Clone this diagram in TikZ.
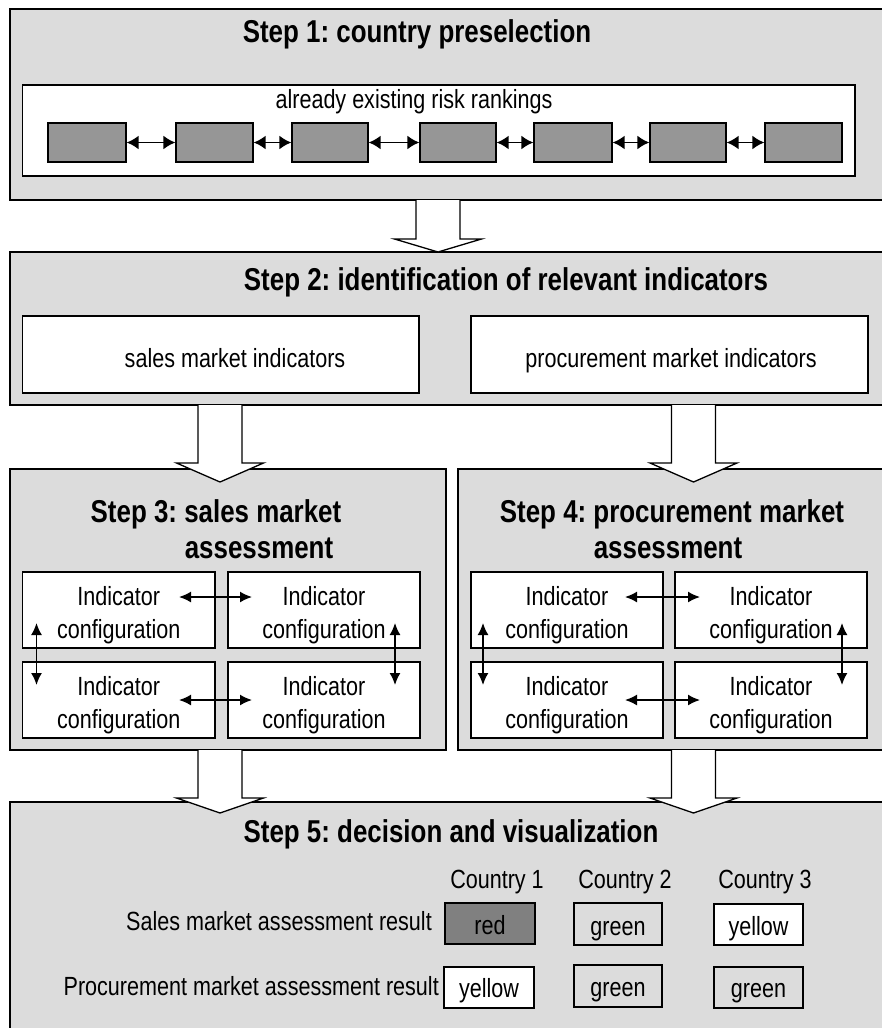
\documentclass[tikz,border=0pt]{standalone}
\usepackage{fontspec}
\setmainfont[FakeStretch=0.82]{Liberation Sans}
\usetikzlibrary{arrows.meta,fit,calc}
\definecolor{bggray}{HTML}{DCDCDC}
\definecolor{rankgray}{HTML}{969696}
\definecolor{redgray}{HTML}{808080}
\frenchspacing
\tikzset{
  stepbox/.style={draw=black, line width=2pt, fill=bggray, inner sep=0pt},
  whitebox/.style={draw=black, line width=1.3pt, fill=white, inner sep=0pt},
  rankbox/.style={draw=black, line width=1.3pt, fill=rankgray, inner sep=0pt},
  resbox/.style={draw=black, line width=1.3pt, inner sep=0pt},
  titletext/.style={font=\fontsize{31.6}{36}\selectfont\bfseries, inner sep=0pt, align=center},
  bodytext/.style={font=\fontsize{26.3}{33}\selectfont, inner sep=0pt, align=center},
  dbl/.style={{Latex[length=12pt,width=14pt]}-{Latex[length=12pt,width=14pt]}, line width=1.8pt},
  smalldbl/.style={{Latex[length=12pt,width=11pt]}-{Latex[length=12pt,width=11pt]}, line width=1.6pt},
  arrowline/.style={draw=black, line width=1.3pt, line join=miter},
}
\newcommand\blockarr[4]{%
  \fill[white] (#1-22,#2) -- (#1-22,#3) -- (#1-43.5,#3) -- (#1,#4) -- (#1+43.5,#3) -- (#1+22,#3) -- (#1+22,#2) -- cycle;
  \draw[arrowline] (#1-22,#2) -- (#1-22,#3) -- (#1-43.5,#3) -- (#1,#4) -- (#1+43.5,#3) -- (#1+22,#3) -- (#1+22,#2);}
\begin{document}
\begin{tikzpicture}[x=1pt,y=-1pt]
\useasboundingbox (0,0) rectangle (882,1028);
\clip (0,0) rectangle (882,1028);
\fill[white] (0,0) rectangle (882,1028);
% step frames
\node[stepbox, fit={(10,9) (900,200)}] (s1) {};
\node[stepbox, fit={(10,252) (900,405)}] (s2) {};
\node[stepbox, fit={(10,469) (446,750)}] (s3) {};
\node[stepbox, fit={(458,469) (900,750)}] (s4) {};
\node[stepbox, fit={(10,802) (900,1040)}] (s5) {};
% step 1
\node[titletext, anchor=base] (t1) at (417,42) {Step 1: country preselection};
\node[whitebox, fit={(22.5,85) (855,176)}] (w1) {};
\node[bodytext, anchor=base] (w1t) at (414,108) {already existing risk rankings};
\node[rankbox, fit={(48,123) (126,162)}] (g1) {};
\node[rankbox, fit={(176,123) (253,162)}] (g2) {};
\node[rankbox, fit={(292,123) (368,162)}] (g3) {};
\node[rankbox, fit={(420,123) (496,162)}] (g4) {};
\node[rankbox, fit={(534,123) (612,162)}] (g5) {};
\node[rankbox, fit={(650,123) (726,162)}] (g6) {};
\node[rankbox, fit={(765,123) (842,162)}] (g7) {};
\draw[dbl] (g1) -- (g2);
\draw[dbl] (g2) -- (g3);
\draw[dbl] (g3) -- (g4);
\draw[dbl] (g4) -- (g5);
\draw[dbl] (g5) -- (g6);
\draw[dbl] (g6) -- (g7);
% step 2
\node[titletext, anchor=base] (t2) at (506,290) {Step 2: identification of relevant indicators};
\node[whitebox, fit={(22.5,316) (419,393)}] (sm) {};
\node[whitebox, fit={(471,316) (868,393)}] (pm) {};
\node[bodytext, anchor=base] (smt) at (235,367) {sales market indicators};
\node[bodytext, anchor=base] (pmt) at (671,367) {procurement market indicators};
% step 3
\node[titletext, anchor=base] (t3a) at (216,522) {Step 3: sales market};
\node[titletext, anchor=base] (t3b) at (259,558) {assessment};
\node[whitebox, fit={(22.5,572) (215,648)}] (i1) {};
\node[whitebox, fit={(228,572) (420,648)}] (i2) {};
\node[whitebox, fit={(22.5,662) (215,738)}] (i3) {};
\node[whitebox, fit={(228,662) (420,738)}] (i4) {};
\node[bodytext] (i1t) at ($(i1.center)+(0,5)$) {Indicator\\configuration};
\node[bodytext] (i2t) at ($(i2.center)+(0,5)$) {Indicator\\configuration};
\node[bodytext] (i3t) at ($(i3.center)+(0,5)$) {Indicator\\configuration};
\node[bodytext] (i4t) at ($(i4.center)+(0,5)$) {Indicator\\configuration};
\coordinate (a1l) at (179,597); \coordinate (a1r) at (252,597);
\coordinate (a2l) at (179,700); \coordinate (a2r) at (252,700);
\coordinate (a3t) at (36.5,623); \coordinate (a3b) at (36.5,685);
\coordinate (a4t) at (395,623); \coordinate (a4b) at (395,685);
\draw[smalldbl] (a1l) -- (a1r);
\draw[smalldbl] (a2l) -- (a2r);
\draw[smalldbl] (a3t) -- (a3b);
\draw[smalldbl] (a4t) -- (a4b);
% step 4
\node[titletext, anchor=base] (t4a) at (672,522) {Step 4: procurement market};
\node[titletext, anchor=base] (t4b) at (668,558) {assessment};
\node[whitebox, fit={(471,572) (663,648)}] (j1) {};
\node[whitebox, fit={(675,572) (867,648)}] (j2) {};
\node[whitebox, fit={(471,662) (663,738)}] (j3) {};
\node[whitebox, fit={(675,662) (867,738)}] (j4) {};
\node[bodytext] (j1t) at ($(j1.center)+(0,5)$) {Indicator\\configuration};
\node[bodytext] (j2t) at ($(j2.center)+(0,5)$) {Indicator\\configuration};
\node[bodytext] (j3t) at ($(j3.center)+(0,5)$) {Indicator\\configuration};
\node[bodytext] (j4t) at ($(j4.center)+(0,5)$) {Indicator\\configuration};
\coordinate (b1l) at (625,597); \coordinate (b1r) at (700,597);
\coordinate (b2l) at (625,700); \coordinate (b2r) at (700,700);
\coordinate (b3t) at (483,623); \coordinate (b3b) at (483,685);
\coordinate (b4t) at (842,623); \coordinate (b4b) at (842,685);
\draw[smalldbl] (b1l) -- (b1r);
\draw[smalldbl] (b2l) -- (b2r);
\draw[smalldbl] (b3t) -- (b3b);
\draw[smalldbl] (b4t) -- (b4b);
% step 5
\node[titletext, anchor=base] (t5) at (451,842) {Step 5: decision and visualization};
\node[bodytext, anchor=base] (c1) at (497,888) {Country 1};
\node[bodytext, anchor=base] (c2) at (625,888) {Country 2};
\node[bodytext, anchor=base] (c3) at (765,888) {Country 3};
\node[bodytext, anchor=base east] (r1) at (432,930) {Sales market assessment result};
\node[bodytext, anchor=base east] (r2) at (439,995) {Procurement market assessment result};
\node[resbox, fill=redgray, fit={(445,903) (535,944)}] (b11) {};
\node[resbox, fill=bggray, fit={(574,903) (662,945)}] (b12) {};
\node[resbox, fill=white, fit={(714,904) (803,945)}] (b13) {};
\node[resbox, fill=white, fit={(444,967) (534,1008)}] (b21) {};
\node[resbox, fill=bggray, fit={(574,965) (662,1007)}] (b22) {};
\node[resbox, fill=bggray, fit={(714,967) (803,1008)}] (b23) {};
\node[bodytext, anchor=base] (b11t) at ($(b11.center)+(0,11)$) {red};
\node[bodytext, anchor=base] (b12t) at ($(b12.center)+(0,11)$) {green};
\node[bodytext, anchor=base] (b13t) at ($(b13.center)+(0,11)$) {yellow};
\node[bodytext, anchor=base] (b21t) at ($(b21.center)+(0,10)$) {yellow};
\node[bodytext, anchor=base] (b22t) at ($(b22.center)+(0,10)$) {green};
\node[bodytext, anchor=base] (b23t) at ($(b23.center)+(0,10)$) {green};
% block arrows
\blockarr{438}{200}{239}{252}
\blockarr{220}{405}{463}{482}
\blockarr{693.5}{405}{463}{482}
\blockarr{220}{750}{798}{813}
\blockarr{693.5}{750}{798}{813}
\end{tikzpicture}
\end{document}
